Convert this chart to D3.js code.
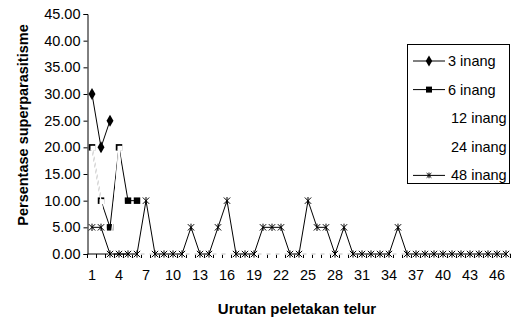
<!DOCTYPE html>
<html>
<head>
<meta charset="utf-8">
<script src="https://cdn.jsdelivr.net/npm/d3@7"></script>
<style>
  body { margin: 0; background: #fff; }
  text { font-family: "Liberation Sans", Arial, sans-serif; fill: #000; }
</style>
</head>
<body>
<script>
var w = 513;
var h = 318;

var margin = { top: 14, left: 87.5, bottom: 64, right: 2.5 };

// data
var categories = d3.range(1, 48);
var tickLabels = [1, 4, 7, 10, 13, 16, 19, 22, 25, 28, 31, 34, 37, 40, 43, 46];
var yTicks = [0, 5, 10, 15, 20, 25, 30, 35, 40, 45];

var s3 = [30, 20, 25];
var s6 = [20, 10, 5, 20, 10, 10];
var s12 = [20, 10, 0, 20, 0, 0, 0, 0, 0, 0, 0, 0, 0, 0, 0, 0, 0, 0, 0, 0, 0, 0, 0, 0,
  0, 0, 0, 0, 0, 0, 0, 0, 0, 0, 0, 0, 0, 0, 0, 0, 0, 0, 0, 0, 0, 0, 0];
var s24 = [20, 10, 0, 20, 0, 0, 0, 0, 0, 0, 0, 0, 0, 0, 0, 0, 0, 0, 0, 0, 0, 0, 0, 0,
  0, 0, 0, 0, 0, 0, 0, 0, 0, 0, 0, 0, 0, 0, 0, 0, 0, 0, 0, 0, 0, 0, 0];
var s48 = [5, 5, 0, 0, 0, 0, 10, 0, 0, 0, 0, 5, 0, 0, 5, 10, 0, 0, 0, 5, 5, 5, 0, 0,
  10, 5, 5, 0, 5, 0, 0, 0, 0, 0, 5, 0, 0, 0, 0, 0, 0, 0, 0, 0, 0, 0, 0];

var width = w - margin.left - margin.right;
var height = h - margin.top - margin.bottom;

// excel style star marker: x with a vertical bar
var star = {
  draw: function(ctx, size) {
    var r = Math.sqrt(size) / 2;
    ctx.moveTo(-r, -r); ctx.lineTo(r, r);
    ctx.moveTo(-r, r); ctx.lineTo(r, -r);
    ctx.moveTo(0, -r - 0.5); ctx.lineTo(0, r + 0.5);
  }
};

var series = [
  { name: "3 inang", values: s3, color: "#000", marker: d3.symbolDiamond, size: 42, fill: "#000", shift: 0 },
  { name: "6 inang", values: s6, color: "#000", marker: d3.symbolSquare, size: 42, fill: "#000", shift: 0 },
  { name: "12 inang", values: s12, color: "#fff", marker: d3.symbolSquare, size: 25, fill: "#fff", shift: 1 },
  { name: "24 inang", values: s24, color: "#fff", marker: d3.symbolTriangle, size: 10, fill: "#fff", shift: 1 },
  { name: "48 inang", values: s48, color: "#000", marker: star, size: 40, fill: "none", shift: 0 }
];

var svg = d3.select("body")
  .append("svg")
  .attr("width", w)
  .attr("height", h);

var g = svg.append("g")
  .attr("transform", "translate(" + margin.left + "," + margin.top + ")");

var x = d3.scaleBand()
  .domain(categories)
  .range([0, width])
  .padding(0);

var y = d3.scaleLinear()
  .domain([0, 45])
  .range([height, 0]);

function cx(d, i) { return x(categories[i]) + x.bandwidth() / 2; }

// y axis
var yAxis = g.append("g")
  .call(d3.axisLeft(y).tickValues(yTicks).tickFormat(d3.format(".2f")).tickSize(4).tickPadding(3));
yAxis.selectAll("text").style("font-size", "14.5px").attr("font-family", null);
yAxis.select(".domain").attr("stroke", "#000");

// x axis: ticks on category boundaries, labels every 3rd
var edges = categories.map(function(c) { return x(c); }).concat([width]);
g.selectAll(".xtick")
  .data(edges)
  .enter()
  .append("line")
  .attr("class", "xtick")
  .attr("x1", function(d) { return d; })
  .attr("x2", function(d) { return d; })
  .attr("y1", height)
  .attr("y2", height + 4)
  .attr("stroke", "#000");

g.append("line")
  .attr("x1", 0)
  .attr("x2", width)
  .attr("y1", height)
  .attr("y2", height)
  .attr("stroke", "#000");

g.selectAll(".xlab")
  .data(tickLabels)
  .enter()
  .append("text")
  .attr("class", "xlab")
  .attr("x", function(d) { return x(d) + x.bandwidth() / 2; })
  .attr("y", height + 26)
  .attr("text-anchor", "middle")
  .style("font-size", "14.5px")
  .text(function(d) { return d; });

// series
var line = d3.line()
  .defined(function(d) { return d != null; })
  .x(cx)
  .y(function(d) { return y(d); });

series.forEach(function(s) {
  g.append("path")
    .datum(s.values)
    .attr("fill", "none")
    .attr("stroke", s.color)
    .attr("stroke-width", 1)
    .attr("d", line);

  g.selectAll(null)
    .data(s.values)
    .enter()
    .append("path")
    .attr("transform", function(d, i) {
      return "translate(" + (cx(d, i) + s.shift) + "," + (y(d) + s.shift) + ")";
    })
    .attr("d", d3.symbol().type(s.marker).size(s.size))
    .attr("fill", s.fill)
    .attr("stroke", s.fill === "none" ? s.color : "none")
    .attr("stroke-width", 1);
});

// axis titles
svg.append("text")
  .attr("x", 297)
  .attr("y", 314)
  .attr("text-anchor", "middle")
  .style("font-size", "15px")
  .style("font-weight", "bold")
  .text("Urutan peletakan telur");

svg.append("text")
  .attr("transform", "translate(28,125) rotate(-90)")
  .attr("text-anchor", "middle")
  .style("font-size", "14.5px")
  .style("font-weight", "bold")
  .text("Persentase superparasitisme");

// legend
var legend = svg.append("g")
  .attr("transform", "translate(407,44)");

legend.append("rect")
  .attr("x", 0.5)
  .attr("y", 0.5)
  .attr("width", 102)
  .attr("height", 139)
  .attr("fill", "#fff")
  .attr("stroke", "#000");

var item = legend.selectAll(".item")
  .data(series)
  .enter()
  .append("g")
  .attr("class", "item")
  .attr("transform", function(d, i) { return "translate(0," + (17 + i * 28.6) + ")"; });

item.append("line")
  .attr("x1", 6)
  .attr("x2", 38)
  .attr("stroke", function(d) { return d.color; });

item.append("path")
  .attr("transform", "translate(22,0)")
  .attr("d", function(d) { return d3.symbol().type(d.marker).size(d.name === "48 inang" ? 22 : 36)(); })
  .attr("fill", function(d) { return d.fill; })
  .attr("stroke", function(d) { return d.fill === "none" ? d.color : "none"; });

item.append("text")
  .attr("x", function(d) { return d.name.length > 7 ? 44 : 41; })
  .attr("y", 5)
  .style("font-size", "14.5px")
  .text(function(d) { return d.name; });
</script>
</body>
</html>
